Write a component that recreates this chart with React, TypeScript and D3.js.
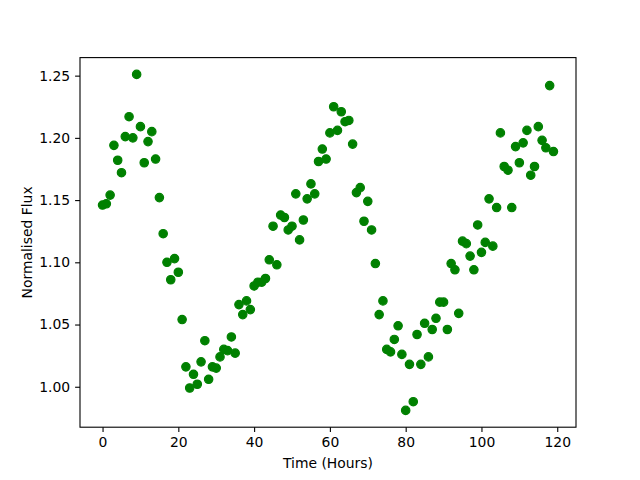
import { useRef, useEffect } from "react";
import * as d3 from "d3";

// hourly samples
const hours = [
  0, 1, 2, 3, 4, 5, 6, 7, 8, 9, 10, 11, 12, 13, 14, 15, 16, 17, 18, 19,
  20, 21, 22, 23, 24, 25, 26, 27, 28, 29, 30, 31, 32, 33, 34, 35, 36, 37, 38, 39,
  40, 41, 42, 43, 44, 45, 46, 47, 48, 49, 50, 51, 52, 53, 54, 55, 56, 57, 58, 59,
  60, 61, 62, 63, 64, 65, 66, 67, 68, 69, 70, 71, 72, 73, 74, 75, 76, 77, 78, 79,
  80, 81, 82, 83, 84, 85, 86, 87, 88, 89, 90, 91, 92, 93, 94, 95, 96, 97, 98, 99,
  100, 101, 102, 103, 104, 105, 106, 107, 108, 109, 110, 111, 112, 113, 114, 115, 116, 117, 118, 119,
];

const flux = [
  1.146, 1.147, 1.154, 1.194, 1.182, 1.172, 1.201, 1.217, 1.2, 1.251,
  1.209, 1.18, 1.197, 1.205, 1.183, 1.152, 1.123, 1.1, 1.086, 1.103,
  1.092, 1.054, 1.016, 0.999, 1.01, 1.002, 1.02, 1.037, 1.006, 1.016,
  1.015, 1.024, 1.03, 1.029, 1.04, 1.027, 1.066, 1.058, 1.069, 1.062,
  1.081, 1.084, 1.084, 1.087, 1.102, 1.129, 1.098, 1.138, 1.136, 1.126,
  1.129, 1.155, 1.118, 1.134, 1.151, 1.163, 1.155, 1.181, 1.191, 1.183,
  1.204, 1.225, 1.206, 1.221, 1.213, 1.214, 1.195, 1.156, 1.16, 1.133,
  1.149, 1.126, 1.099, 1.058, 1.069, 1.03, 1.028, 1.038, 1.049, 1.026,
  0.981, 1.018, 0.988, 1.042, 1.018, 1.051, 1.024, 1.046, 1.055, 1.068,
  1.068, 1.046, 1.099, 1.094, 1.059, 1.117, 1.115, 1.105, 1.094, 1.13,
  1.108, 1.116, 1.151, 1.113, 1.144, 1.204, 1.177, 1.174, 1.144, 1.193,
  1.18, 1.196, 1.206, 1.17, 1.177, 1.209, 1.198, 1.192, 1.242, 1.189,
];

const xTicks = [0, 20, 40, 60, 80, 100, 120];
const yTicks = [1.0, 1.05, 1.1, 1.15, 1.2, 1.25];

const width = 640;
const height = 480;
const margin = { top: 57.6, right: 64, bottom: 52.8, left: 80 };
const font = "'DejaVu Sans', sans-serif";

// matplotlib style 5% padding
const padded = (ext) => {
  const span = ext[1] - ext[0];
  return [ext[0] - span * 0.05, ext[1] + span * 0.05];
};

const FluxScatter = () => {
  const svgRef = useRef();

  useEffect(() => {
    const svg = d3.select(svgRef.current);
    svg.selectAll("*").remove();

    const chartWidth = width - margin.left - margin.right;
    const chartHeight = height - margin.top - margin.bottom;

    const x = d3.scaleLinear().domain(padded(d3.extent(hours))).range([0, chartWidth]);
    const y = d3.scaleLinear().domain(padded(d3.extent(flux))).range([chartHeight, 0]);

    const g = svg.append("g").attr("transform", `translate(${margin.left},${margin.top})`);

    // points
    g.selectAll(".pt")
      .data(hours)
      .enter()
      .append("circle")
      .attr("class", "pt")
      .attr("cx", (d) => x(d))
      .attr("cy", (d, i) => y(flux[i]))
      .attr("r", 4.2)
      .attr("fill", "#008000")
      .attr("stroke", "#008000")
      .attr("stroke-width", 1.2);

    // frame
    g.append("rect")
      .attr("width", chartWidth)
      .attr("height", chartHeight)
      .attr("fill", "none")
      .attr("stroke", "#000")
      .attr("stroke-width", 1.1);

    const xAxis = g
      .append("g")
      .attr("transform", `translate(0,${chartHeight})`)
      .call(d3.axisBottom(x).tickValues(xTicks).tickSize(4.9).tickPadding(4.9).tickFormat(d3.format("d")));

    const yAxis = g
      .append("g")
      .call(d3.axisLeft(y).tickValues(yTicks).tickSize(4.9).tickPadding(4.9).tickFormat(d3.format(".2f")));

    [xAxis, yAxis].forEach((ax) => {
      ax.select(".domain").remove();
      ax.selectAll("line").style("stroke", "#000").style("stroke-width", 1.1);
      ax.selectAll("text").style("font-family", font).style("font-size", "13.9px").style("fill", "#000");
    });

    svg.append("text")
      .attr("x", margin.left + chartWidth / 2)
      .attr("y", 468)
      .attr("text-anchor", "middle")
      .style("font-family", font)
      .style("font-size", "13.9px")
      .text("Time (Hours)");

    svg.append("text")
      .attr("transform", `translate(32,${margin.top + chartHeight / 2}) rotate(-90)`)
      .attr("text-anchor", "middle")
      .style("font-family", font)
      .style("font-size", "13.9px")
      .text("Normalised Flux");
  }, []);

  return <svg ref={svgRef} width={width} height={height} style={{ display: "block" }}></svg>;
};

export default function App() {
  return (
    <div style={{ position: "absolute", left: 0, top: 0, background: "#fff" }}>
      <style>{`body { margin: 0; }`}</style>
      <FluxScatter />
    </div>
  );
}
